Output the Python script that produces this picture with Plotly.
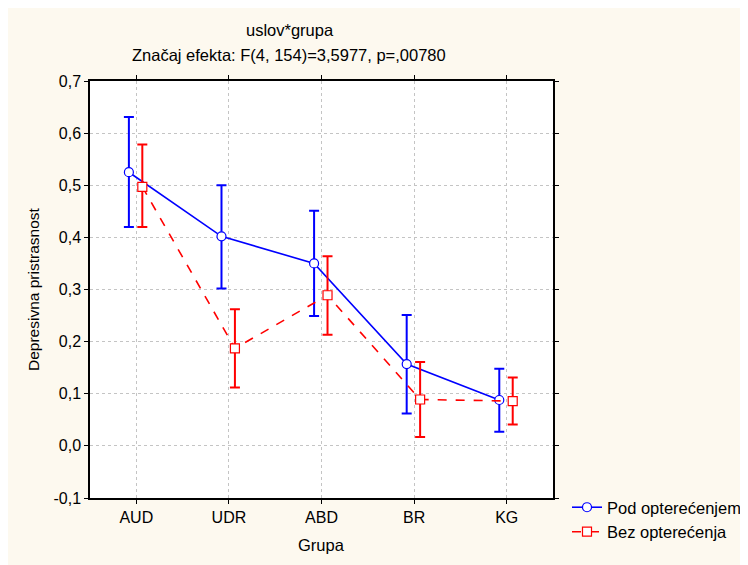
import plotly.graph_objects as go

categories = ["AUD", "UDR", "ABD", "BR", "KG"]
pod_mean = [0.525, 0.402, 0.350, 0.157, 0.088]
pod_upper = [0.631, 0.500, 0.451, 0.251, 0.148]
pod_lower = [0.420, 0.302, 0.249, 0.062, 0.027]
bez_mean = [0.497, 0.187, 0.289, 0.089, 0.086]
bez_upper = [0.578, 0.262, 0.364, 0.161, 0.131]
bez_lower = [0.420, 0.112, 0.213, 0.017, 0.041]

idx = list(range(len(categories)))
off_pod = -0.08
off_bez = 0.065

fig = go.Figure()
fig.add_trace(go.Scatter(
    x=[i + off_pod for i in idx], y=pod_mean, name="Pod opterećenjem",
    mode="lines+markers",
    line=dict(color="#0000FF", width=1.6),
    marker=dict(symbol="circle", size=9, color="white", line=dict(color="#0000FF", width=1.2)),
    error_y=dict(type="data", symmetric=False,
                 array=[u - m for u, m in zip(pod_upper, pod_mean)],
                 arrayminus=[m - l for m, l in zip(pod_mean, pod_lower)],
                 color="#0000FF", thickness=2, width=5),
))
fig.add_trace(go.Scatter(
    x=[i + off_bez for i in idx], y=bez_mean, name="Bez opterećenja",
    mode="lines+markers",
    line=dict(color="#FF0000", width=1.6, dash="dash"),
    marker=dict(symbol="square", size=9, color="white", line=dict(color="#FF0000", width=1.2)),
    error_y=dict(type="data", symmetric=False,
                 array=[u - m for u, m in zip(bez_upper, bez_mean)],
                 arrayminus=[m - l for m, l in zip(bez_mean, bez_lower)],
                 color="#FF0000", thickness=2, width=5),
))

W, H = 740, 557
L, T = 82, 73
R, B = W - 545, H - 490
pw, ph = W - L - R, H - T - B

def px_x(p):
    return (p - L) / pw

def px_y(p):
    return 1 - (p - T) / ph

fig.add_annotation(text="uslov*grupa", xref="paper", yref="paper",
                   x=px_x(282), y=px_y(22), xanchor="center", yanchor="middle",
                   showarrow=False, font=dict(size=16.5))
fig.add_annotation(text="Značaj efekta: F(4, 154)=3,5977, p=,00780", xref="paper", yref="paper",
                   x=px_x(281), y=px_y(47), xanchor="center", yanchor="middle",
                   showarrow=False, font=dict(size=16.5))
fig.add_annotation(text="Grupa", xref="paper", yref="paper",
                   x=px_x(313), y=px_y(537), xanchor="center", yanchor="middle",
                   showarrow=False, font=dict(size=16.5))
fig.add_annotation(text="Depresivna pristrasnost", xref="paper", yref="paper",
                   x=px_x(25), y=px_y(281), xanchor="center", yanchor="middle",
                   textangle=-90, showarrow=False, font=dict(size=15.5))

fig.update_layout(
    width=W, height=H,
    margin=dict(l=L, r=R, t=T, b=B, autoexpand=False),
    paper_bgcolor="#FDF9EF", plot_bgcolor="white",
    font=dict(family="Liberation Sans, Arial", size=16, color="black"),
    showlegend=True,
    legend=dict(x=px_x(559), xanchor="left", y=px_y(482), yanchor="top",
                bgcolor="rgba(0,0,0,0)", font=dict(size=16.5), tracegroupgap=0,
                itemwidth=30),
    xaxis=dict(range=[-0.5, 4.5], tickmode="array", tickvals=idx, ticktext=categories,
               showgrid=True, gridcolor="#C4C4C4", griddash="dot", gridwidth=1,
               showline=True, linecolor="black", linewidth=1.5, mirror="ticks",
               ticks="outside", ticklen=4, tickcolor="black", zeroline=False,
               automargin=False, tickfont=dict(size=16)),
    yaxis=dict(range=[-0.1, 0.7], tickmode="array",
               tickvals=[-0.1, 0, 0.1, 0.2, 0.3, 0.4, 0.5, 0.6, 0.7],
               ticktext=["-0,1", "0,0", "0,1", "0,2", "0,3", "0,4", "0,5", "0,6", "0,7"],
               showgrid=True, gridcolor="#C4C4C4", griddash="dot", gridwidth=1,
               showline=True, linecolor="black", linewidth=1.5, mirror="ticks",
               ticks="outside", ticklen=4, tickcolor="black", zeroline=False,
               automargin=False, tickfont=dict(size=16)),
)

fig.write_html("out.html")
